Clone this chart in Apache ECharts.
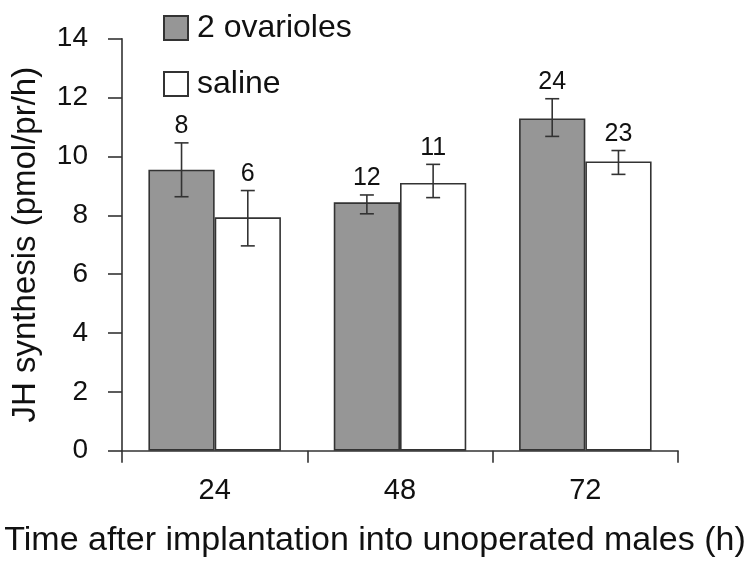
<!DOCTYPE html>
<html><head><meta charset="utf-8">
<script src="https://cdn.jsdelivr.net/npm/echarts@6/dist/echarts.min.js"></script>
<style>html,body{margin:0;padding:0;background:#fff}#c{width:748px;height:561px}</style>
</head><body><div id="c"></div>
<script>
const categories = ['24', '48', '72'];
const ovarioles = [9.55, 8.44, 11.29];
const ovariolesLow = [8.63, 8.05, 10.68];
const ovariolesHigh = [10.46, 8.69, 11.96];
const ovariolesN = ['8', '12', '24'];
const saline = [7.93, 9.10, 9.83];
const salineLow = [6.96, 8.60, 9.39];
const salineHigh = [8.84, 9.73, 10.20];
const salineN = ['6', '11', '23'];
const yTicks = [0, 2, 4, 6, 8, 10, 12, 14];

const FONT = 'Liberation Sans, Arial, sans-serif';
const DARK = '#333333';
const GAP = 0.285;

function errData(low, high, n, side) {
  return categories.map((c, i) => [i, low[i], high[i], n[i], side]);
}
function renderErr(params, api) {
  const i = api.value(0), lo = api.value(1), hi = api.value(2), side = api.value(4);
  const n = api.value(3);
  const band = api.size([1, 0])[0];
  const bw = band * (1 - GAP) / 2;
  const c = api.coord([i, 0]);
  const x = c[0] + side * bw / 2;
  const pLo = api.coord([i, lo])[1];
  const pHi = api.coord([i, hi])[1];
  const cap = 7;
  const st = { stroke: DARK, lineWidth: 1.6 };
  return {
    type: 'group',
    children: [
      { type: 'line', shape: { x1: x, y1: pLo, x2: x, y2: pHi }, style: st },
      { type: 'line', shape: { x1: x - cap, y1: pLo, x2: x + cap, y2: pLo }, style: st },
      { type: 'line', shape: { x1: x - cap, y1: pHi, x2: x + cap, y2: pHi }, style: st },
      { type: 'text', style: { x: x, y: pHi - 4, text: String(n), align: 'center', verticalAlign: 'bottom', fill: '#111', font: '25px ' + FONT } }
    ]
  };
}

const chart = echarts.init(document.getElementById('c'));
chart.setOption({
  animation: false,
  backgroundColor: '#fff',
  textStyle: { fontFamily: FONT },
  grid: { left: 122, right: 70, top: 38.7, bottom: 110.3, containLabel: false, outerBoundsMode: 'none' },
  legend: {
    orient: 'vertical', left: 158, top: 7,
    itemWidth: 24, itemHeight: 24, itemGap: 24,
    textStyle: { fontSize: 32, color: '#111', fontFamily: FONT, padding: [0, 0, 0, 4] },
    data: [
      { name: '2 ovarioles', icon: 'rect' },
      { name: 'saline', icon: 'rect' }
    ]
  },
  xAxis: {
    type: 'category', data: categories,
    name: 'Time after implantation into unoperated males (h)',
    nameLocation: 'middle', nameGap: 73,
    nameTextStyle: { fontSize: 34, color: '#111', fontFamily: FONT, padding: [0, 50, 0, 0] },
    axisLine: { lineStyle: { color: DARK, width: 1.6 } },
    axisTick: { show: true, length: 12, alignWithLabel: false, lineStyle: { color: DARK, width: 1.6 } },
    axisLabel: { fontSize: 29, color: '#111', margin: 26, fontFamily: FONT }
  },
  yAxis: {
    type: 'value', min: 0, max: 14, interval: 2,
    name: 'JH synthesis (pmol/pr/h)',
    nameLocation: 'middle', nameGap: 80, nameRotate: 90,
    nameTextStyle: { fontSize: 33, color: '#111', fontFamily: FONT },
    axisLine: { show: true, lineStyle: { color: DARK, width: 1.6 } },
    axisTick: { show: true, length: 14, lineStyle: { color: DARK, width: 1.6 } },
    axisLabel: { fontSize: 28, color: '#111', margin: 34, fontFamily: FONT,
      formatter: v => yTicks.includes(v) ? String(v) : '' },
    splitLine: { show: false }
  },
  series: [
    { name: '2 ovarioles', type: 'bar', data: ovarioles, barGap: '0%', barCategoryGap: (GAP * 100) + '%',
      itemStyle: { color: '#969696', borderColor: DARK, borderWidth: 1.6 } },
    { name: 'saline', type: 'bar', data: saline, barGap: '0%', barCategoryGap: (GAP * 100) + '%',
      itemStyle: { color: '#ffffff', borderColor: DARK, borderWidth: 1.6 } },
    { type: 'custom', renderItem: renderErr, data: errData(ovariolesLow, ovariolesHigh, ovariolesN, -1), z: 10,
      encode: { x: 0, y: [1, 2] } },
    { type: 'custom', renderItem: renderErr, data: errData(salineLow, salineHigh, salineN, 1), z: 10,
      encode: { x: 0, y: [1, 2] } }
  ]
});
</script></body></html>
